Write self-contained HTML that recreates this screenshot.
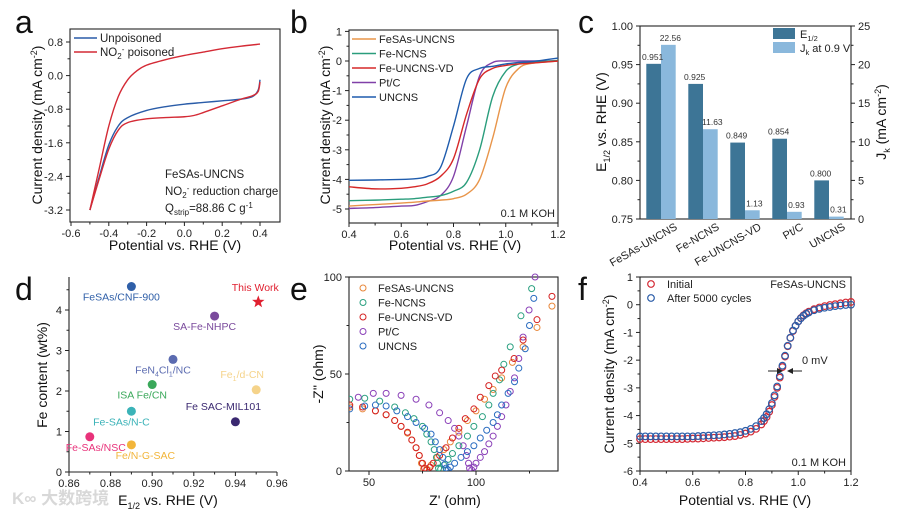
<!DOCTYPE html>
<html><head><meta charset="utf-8">
<style>
html,body{margin:0;padding:0;background:#fff;}
svg{display:block;font-family:"Liberation Sans","Noto Sans CJK SC",sans-serif;}
</style></head>
<body>
<svg id="fig" width="899" height="517" viewBox="0 0 899 517">
<g id="root"></g>
</svg>
<script>
// ---------- DATA ----------
// panel a (CV)
const aRedUpX=[-0.5,-0.45,-0.4,-0.35,-0.3,-0.25,-0.2,-0.1,0,0.1,0.2,0.3,0.4];
const aRedUpY=[-3.2,-2.2,-1.2,-0.5,-0.1,0.12,0.25,0.38,0.48,0.56,0.64,0.7,0.75];
const aRedLoX=[0.4,0.39,0.36,0.3,0.2,0.1,0.05,0,-0.1,-0.2,-0.3,-0.35,-0.4,-0.45,-0.5];
const aRedLoY=[-0.15,-0.38,-0.48,-0.56,-0.72,-0.88,-0.95,-0.98,-1.0,-1.03,-1.12,-1.3,-1.75,-2.45,-3.2];
const aBlueX=[0.4,0.39,0.36,0.3,0.2,0.1,0,-0.1,-0.2,-0.3,-0.35,-0.4,-0.45,-0.5];
const aBlueY=[-0.1,-0.35,-0.5,-0.56,-0.6,-0.64,-0.68,-0.74,-0.83,-1.0,-1.2,-1.65,-2.4,-3.2];
// panel b (LSV)
const bX=[0.4,0.5,0.6,0.65,0.7,0.75,0.8,0.85,0.9,0.95,1.0,1.05,1.1,1.2];
const bFeSAs=[-4.9,-4.85,-4.8,-4.77,-4.73,-4.7,-4.65,-4.5,-4.0,-2.6,-0.9,-0.25,-0.08,0];
const bFeNCNS=[-4.72,-4.7,-4.67,-4.65,-4.6,-4.55,-4.4,-4.1,-3.0,-1.2,-0.35,-0.1,-0.05,0.02];
const bVD=[-4.25,-4.32,-4.3,-4.25,-4.15,-3.9,-3.3,-1.8,-0.6,-0.25,-0.15,-0.1,-0.07,0];
const bPt=[-4.98,-4.95,-4.9,-4.88,-4.75,-4.55,-3.9,-2.2,-0.5,-0.05,0,0,0,0];
const bUNCNS=[-4.03,-4.02,-4.0,-3.98,-3.9,-3.6,-2.2,-0.6,-0.25,-0.18,-0.1,-0.05,-0.02,0.1];
const bNames=["FeSAs-UNCNS","Fe-NCNS","Fe-UNCNS-VD","Pt/C","UNCNS"];
// panel c (bars)
const cCats=["FeSAs-UNCNS","Fe-NCNS","Fe-UNCNS-VD","Pt/C","UNCNS"];
const cE12=[0.951,0.925,0.849,0.854,0.800];
const cJk=[22.56,11.63,1.13,0.93,0.31];
const cLeftTicks=[0.75,0.80,0.85,0.90,0.95,1.00];
const cRightTicks=[0,5,10,15,20,25];
// panel d (scatter)
const dNames=["FeSAs/CNF-900","SA-Fe-NHPC","FeN4Cl1/NC","Fe1/d-CN","ISA Fe/CN","Fe-SAs/N-C","Fe SAC-MIL101","Fe-SAs/NSC","Fe/N-G-SAC"];
const dE=[0.89,0.93,0.91,0.95,0.90,0.89,0.94,0.87,0.89];
const dFe=[4.58,3.85,2.78,2.03,2.16,1.5,1.24,0.87,0.67];
const dThisE=[0.951];
const dThisFe=[4.2];
// panel e (EIS)
const eOrX=[41,47,53,58,62,65,68,70,72,73.5,74.5,75.5,77,79,82,85,88,92,96,100,104,108,112,117,122,128.5,135.5];
const eOrY=[33,32,31,29,26,23,19.5,16,12,8,4,1,1,3,7,11,15,20,26,31,37,42,48,56,64,74,85];
const eGrX=[41,48,55,62,67,71,75,77,79,80.5,81.5,82,82.5,83.5,85,87,89,92,96,99,103,106,108,111,113,116,121,126];
const eGrY=[37,37.5,36,33,30,27,23,19,15,11,7,4,1.5,1,3,6,9,13,18,23,28,34,40,47,55,64,80,94];
const eRdX=[41,47,53,58,62,65,68,70,72,73.5,75,76,77,78.5,80,83,86,89,92,95,99,102,106,109,112,117.8,122,128.5,135.5];
const eRdY=[34,33,31,29,26,23,20,16,12,8,4,1.5,0.5,2,4,8,12,17,22,27,32,38,44,49,52,58,67.5,78,90];
const ePuX=[45,52,58,65,72,78,83,87,90,92,94,95.5,96.5,97,98,99,100,102,104,106,108,110,112,114,116,118,120,122,124.8,127.6];
const ePuY=[38,40,40,39,37,34,30,26,22,18,13,8,4,1.5,0.5,2,4,7,10,14,18,23,28,34,41,48,58,69,83,100];
const eBlX=[41,48,53,58,63,68,72,76,79,81,83,84.5,85.5,86,87,88,90,93,96,99,102,105,108,110,112,115,118,120,123,125,127];
const eBlY=[32,33.5,34,33.5,31,28,25,22,19,15,11,7,3.5,1.5,0.5,2,4,7,10,13,17,21,25,29,34,40,46,53,63,75,89];
// panel f (stability)
const fX=[0.40,0.42,0.44,0.46,0.48,0.50,0.52,0.54,0.56,0.58,0.60,0.62,0.64,0.66,0.68,0.70,0.72,0.74,0.76,0.78,0.80,0.82,0.84,0.86,0.87,0.88,0.89,0.90,0.91,0.92,0.93,0.94,0.95,0.96,0.97,0.98,0.99,1.00,1.01,1.02,1.03,1.04,1.06,1.08,1.10,1.12,1.14,1.16,1.18,1.20];
const fInit=[-4.85,-4.85,-4.85,-4.85,-4.85,-4.85,-4.85,-4.85,-4.85,-4.84,-4.83,-4.83,-4.82,-4.81,-4.80,-4.79,-4.78,-4.76,-4.74,-4.70,-4.65,-4.58,-4.48,-4.32,-4.2,-4.05,-3.86,-3.62,-3.33,-3.0,-2.63,-2.25,-1.87,-1.5,-1.2,-0.95,-0.76,-0.6,-0.48,-0.38,-0.31,-0.25,-0.16,-0.1,-0.05,-0.01,0.02,0.05,0.08,0.1];
const fAfter=[-4.75,-4.75,-4.75,-4.75,-4.75,-4.75,-4.75,-4.75,-4.75,-4.75,-4.75,-4.74,-4.73,-4.72,-4.71,-4.70,-4.68,-4.66,-4.63,-4.6,-4.55,-4.48,-4.38,-4.2,-4.09,-3.95,-3.77,-3.55,-3.27,-2.95,-2.58,-2.2,-1.84,-1.48,-1.19,-0.93,-0.76,-0.6,-0.49,-0.4,-0.33,-0.28,-0.2,-0.15,-0.11,-0.08,-0.05,-0.03,-0.01,0.0];

// ---------- HELPERS ----------
const NS="http://www.w3.org/2000/svg";
const root=document.getElementById('root');
function el(tag,attrs,parent,text){const e=document.createElementNS(NS,tag);for(const k in attrs)e.setAttribute(k,attrs[k]);if(text!==undefined)e.textContent=text;(parent||root).appendChild(e);return e;}
function lin(d0,d1,p0,p1){return v=>p0+(v-d0)*(p1-p0)/(d1-d0);}
function smooth(pts){let d="M"+pts[0][0].toFixed(2)+","+pts[0][1].toFixed(2);for(let i=0;i<pts.length-1;i++){const p0=pts[Math.max(0,i-1)],p1=pts[i],p2=pts[i+1],p3=pts[Math.min(pts.length-1,i+2)];const c1x=p1[0]+(p2[0]-p0[0])/6,c1y=p1[1]+(p2[1]-p0[1])/6,c2x=p2[0]-(p3[0]-p1[0])/6,c2y=p2[1]-(p3[1]-p1[1])/6;d+=" C"+c1x.toFixed(2)+","+c1y.toFixed(2)+" "+c2x.toFixed(2)+","+c2y.toFixed(2)+" "+p2[0].toFixed(2)+","+p2[1].toFixed(2);}return d;}
function frame(g,x0,y0,x1,y1,full){
  if(full){const r=el('rect',{x:x0,y:y0,width:x1-x0,height:y1-y0,fill:'none',stroke:'#222','stroke-width':1.1},g);}
  else{const p=el('path',{d:`M${x0},${y0}V${y1}H${x1}`,fill:'none',stroke:'#222','stroke-width':1.1},g);}
}
function xTicks(g,sx,ticks,y,labels,minor){ticks.forEach((t,i)=>{const x=sx(t);el('line',{x1:x,x2:x,y1:y,y2:y+4,stroke:'#222','stroke-width':1},g);const tx=el('text',{x:x,y:y+15,'font-size':11,'text-anchor':'middle',fill:'#222'},g,labels[i]);});
  (minor||[]).forEach(t=>{const x=sx(t);el('line',{x1:x,x2:x,y1:y,y2:y+2.5,stroke:'#222','stroke-width':1},g);});}
function yTicks(g,sy,ticks,x,labels,minor,right){const s=right?1:-1;ticks.forEach((t,i)=>{const y=sy(t);el('line',{x1:x,x2:x+4*s,y1:y,y2:y,stroke:'#222','stroke-width':1},g);const tx=el('text',{x:x+7*s,y:y+4,'font-size':11,'text-anchor':right?'start':'end',fill:'#222'},g,labels[i]);});
  (minor||[]).forEach(t=>{const y=sy(t);el('line',{x1:x,x2:x+2.5*s,y1:y,y2:y,stroke:'#222','stroke-width':1},g);});}
function title(g,x,y,html,rot,name){const t=el('text',{x:x,y:y,'font-size':14,'text-anchor':'middle',fill:'#111',transform:rot?`rotate(-90 ${x} ${y})`:''},g);t.innerHTML=html;return t;}
function letter(x,y,s){const t=el('text',{x:x,y:y,'font-size':32,fill:'#111'},root,s);}
function range(a,b,st){const r=[];for(let v=a;v<=b+1e-9;v+=st)r.push(+v.toFixed(4));return r;}

// ---------- PANEL A ----------
(function(){
const g=el('g',{});
const sx=lin(-0.6,0.4,71,260), sy=lin(0.8,-3.2,42,210);
frame(g,70,29,280,222,true);
xTicks(g,sx,[-0.6,-0.4,-0.2,0,0.2,0.4],222,["-0.6","-0.4","-0.2","0.0","0.2","0.4"],range(-0.5,0.3,0.2));
yTicks(g,sy,[0.8,0,-0.8,-1.6,-2.4,-3.2],70,["0.8","0.0","-0.8","-1.6","-2.4","-3.2"],range(-2.8,0.4,0.8));
const blue=el('path',{d:smooth(aBlueX.map((x,i)=>[sx(x),sy(aBlueY[i])])),fill:'none',stroke:'#2a5ca8','stroke-width':1.4},g);

const red=el('path',{d:smooth(aRedUpX.map((x,i)=>[sx(x),sy(aRedUpY[i])])),fill:'none',stroke:'#d42a35','stroke-width':1.4},g);

const red2=el('path',{d:smooth(aRedLoX.map((x,i)=>[sx(x),sy(aRedLoY[i])])),fill:'none',stroke:'#d42a35','stroke-width':1.4},g);

el('line',{x1:74,x2:97,y1:38,y2:38,stroke:'#2a5ca8','stroke-width':1.5},g);
let t=el('text',{x:100,y:42,'font-size':11.5,fill:'#222'},g,'Unpoisoned');
el('line',{x1:74,x2:97,y1:52,y2:52,stroke:'#d42a35','stroke-width':1.5},g);
t=el('text',{x:100,y:56,'font-size':11.5,fill:'#222'},g);t.innerHTML='NO<tspan font-size="8" dy="3">2</tspan><tspan font-size="8" dy="-7">-</tspan><tspan dy="4"> poisoned</tspan>';
t=el('text',{x:165,y:178,'font-size':11.5,fill:'#222'},g,'FeSAs-UNCNS');
t=el('text',{x:165,y:195,'font-size':11.5,fill:'#222'},g);t.innerHTML='NO<tspan font-size="8" dy="3">2</tspan><tspan font-size="8" dy="-7">-</tspan><tspan dy="4"> reduction charge</tspan>';
t=el('text',{x:165,y:212,'font-size':11.5,fill:'#222'},g);t.innerHTML='Q<tspan font-size="8" dy="3">strip</tspan><tspan dy="-3">=88.86 C g</tspan><tspan font-size="8" dy="-4">-1</tspan>';
title(g,175,250,'Potential vs. RHE (V)',false,'x-axis-title');
title(g,42,125,'Current density (mA cm<tspan font-size="9" dy="-5">-2</tspan><tspan dy="5">)</tspan>',true,'y-axis-title');
})();
letter(15,33,'a');

// ---------- PANEL B ----------
(function(){
const g=el('g',{});
const sx=lin(0.4,1.2,349,558), sy=lin(0,-5,61,209);
frame(g,349,30,558,223,true);
xTicks(g,sx,[0.4,0.6,0.8,1.0,1.2],223,["0.4","0.6","0.8","1.0","1.2"],[0.5,0.7,0.9,1.1]);
yTicks(g,sy,[1,0,-1,-2,-3,-4,-5],349,["1","0","-1","-2","-3","-4","-5"],[0.5,-0.5,-1.5,-2.5,-3.5,-4.5]);
const series=[bFeSAs,bFeNCNS,bVD,bPt,bUNCNS], cols=['#e8954a','#2a9d7c','#d62828','#8040a8','#1f5cad'];
const order=[3,0,1,2,4];
order.forEach(k=>{const p=el('path',{d:smooth(bX.map((x,i)=>[sx(x),sy(series[k][i])])),fill:'none',stroke:cols[k],'stroke-width':1.4},g);});
bNames.forEach((n,i)=>{const y=39+i*14.5;el('line',{x1:352,x2:376,y1:y,y2:y,stroke:cols[i],'stroke-width':1.6},g);const t=el('text',{x:379,y:y+4,'font-size':11,fill:'#222'},g,n);});
let t=el('text',{x:555,y:217,'font-size':11,'text-anchor':'end',fill:'#222'},g,'0.1 M KOH');
title(g,455,250,'Potential vs. RHE (V)',false,'x-axis-title');
title(g,330,125,'Current density (mA cm<tspan font-size="9" dy="-5">-2</tspan><tspan dy="5">)</tspan>',true,'y-axis-title');
})();
letter(290,33,'b');

// ---------- PANEL C ----------
(function(){
const g=el('g',{});
const sL=lin(0.75,1.0,219,26), sR=lin(0,25,219,26);
const sx=i=>661+i*42;
frame(g,640,26,851,219,true);
yTicks(g,sL,cLeftTicks,640,cLeftTicks.map(v=>v.toFixed(2)),[0.775,0.825,0.875,0.925,0.975]);
yTicks(g,sR,cRightTicks,851,cRightTicks.map(String),[2.5,7.5,12.5,17.5,22.5],true);
const bw=14.7;
cCats.forEach((c,i)=>{
  const y1=sL(cE12[i]);
  const r1=el('rect',{x:sx(i)-bw,y:y1,width:bw,height:219-y1,fill:'#3d7596'},g);
  
  const y2=sR(cJk[i]);
  const r2=el('rect',{x:sx(i),y:y2,width:bw,height:219-y2,fill:'#8ab8dc'},g);
  
  let t=el('text',{x:sx(i)-bw/2-1,y:y1-4,'font-size':8.5,'text-anchor':'middle',fill:'#333'},g,cE12[i].toFixed(3));
  t=el('text',{x:sx(i)+bw/2+2,y:y2-4,'font-size':8.5,'text-anchor':'middle',fill:'#333'},g,cJk[i].toFixed(2));
  t=el('text',{x:sx(i)+17,y:229,'font-size':11,'text-anchor':'end',fill:'#222',transform:`rotate(-30 ${sx(i)+17} 229)`},g,c);
});
el('rect',{x:773,y:28,width:22,height:11,fill:'#3d7596'},g);
let t=el('text',{x:800,y:38,'font-size':11,fill:'#222'},g);t.innerHTML='E<tspan font-size="7.5" dy="3">1/2</tspan>';
el('rect',{x:773,y:42,width:22,height:11,fill:'#8ab8dc'},g);
t=el('text',{x:800,y:52,'font-size':11,fill:'#222'},g);t.innerHTML='J<tspan font-size="7.5" dy="3">k</tspan><tspan dy="-3"> at 0.9 V</tspan>';
title(g,606,122,'E<tspan font-size="9" dy="4">1/2</tspan><tspan dy="-4"> vs. RHE (V)</tspan>',true,'y-axis-left-title');
title(g,886,122,'J<tspan font-size="9" dy="4">k</tspan><tspan dy="-4"> (mA cm</tspan><tspan font-size="9" dy="-5">-2</tspan><tspan dy="5">)</tspan>',true,'y-axis-right-title');
})();
letter(578,33,'c');

// ---------- PANEL D ----------
(function(){
const g=el('g',{});
const sx=lin(0.86,0.96,69,277), sy=lin(0,4,472,310);
frame(g,69,277,277,472,false);
xTicks(g,sx,[0.86,0.88,0.90,0.92,0.94,0.96],472,["0.86","0.88","0.90","0.92","0.94","0.96"],[0.87,0.89,0.91,0.93,0.95]);
yTicks(g,sy,[0,1,2,3,4],69,["0","1","2","3","4"],[0.5,1.5,2.5,3.5,4.5]);
const cols=['#2f5fa8','#7a4a9c','#5b6bb0','#f5d38a','#3aa85a','#3bb3b8','#3a2870','#e8327a','#f2b53a'];
const lab=[[0,-10,14],[0,-10,14],[-4,-10,14],[-10,-14,-12],[0,-10,14],[0,-10,14],[0,-12,-12],[0,6,14],[0,14,14]];
dNames.forEach((n,i)=>{
  const x=sx(dE[i]),y=sy(dFe[i]);
  const c=el('circle',{cx:x,cy:y,r:4.5,fill:cols[i]},g);
  const t=el('text',{x:x+lab[i][1],y:y+lab[i][2],'font-size':10.5,'text-anchor':'middle',fill:cols[i]},g);
  if(n==='FeN4Cl1/NC')t.innerHTML='FeN<tspan font-size="7" dy="3">4</tspan><tspan dy="-3">Cl</tspan><tspan font-size="7" dy="3">1</tspan><tspan dy="-3">/NC</tspan>';
  else if(n==='Fe1/d-CN')t.innerHTML='Fe<tspan font-size="7" dy="3">1</tspan><tspan dy="-3">/d-CN</tspan>';
  else t.textContent=n;
  
});
const x=sx(dThisE[0]),y=sy(dThisFe[0]);
let pts=[];for(let k=0;k<10;k++){const r=k%2?2.7:6.5,a=-Math.PI/2+k*Math.PI/5;pts.push((x+r*Math.cos(a)).toFixed(1)+','+(y+r*Math.sin(a)).toFixed(1));}
const s=el('polygon',{points:pts.join(' '),fill:'#e02030'},g);
let t=el('text',{x:x-3,y:y-11,'font-size':10.5,'text-anchor':'middle',fill:'#e02030'},g,'This Work');
title(g,168,505,'E<tspan font-size="9" dy="4">1/2</tspan><tspan dy="-4"> vs. RHE (V)</tspan>',false,'x-axis-title');
title(g,47,375,'Fe content (wt%)',true,'y-axis-title');
t=el('text',{x:12,y:504,'font-size':17,fill:'#d8d8d8','font-weight':'bold'},root,'K∞ 大数跨境');
})();
letter(15,300,'d');

// ---------- PANEL E ----------
(function(){
const g=el('g',{});
const sx=lin(50,100,369,476), sy=lin(0,100,471,277);
frame(g,349,277,558,471,true);
xTicks(g,sx,[50,100],471,["50","100"],[75,125]);
yTicks(g,sy,[0,50,100],349,["0","50","100"],[25,75]);
const cols=['#e8873a','#2aa080','#d42020','#8a40b8','#2a6cc0'];
const xs=[eOrX,eGrX,eRdX,ePuX,eBlX], ys=[eOrY,eGrY,eRdY,ePuY,eBlY];
const cp=el('clipPath',{id:'eclip'},g);el('rect',{x:349,y:270,width:209,height:201},cp);
const cg=el('g',{'clip-path':'url(#eclip)'},g);
[3,0,1,2,4].forEach(k=>{xs[k].forEach((v,i)=>{const c=el('circle',{cx:sx(v),cy:sy(ys[k][i]),r:3,fill:'none',stroke:cols[k],'stroke-width':1},cg);});});
bNames.forEach((n,i)=>{const y=288+i*14.5;el('circle',{cx:363,cy:y,r:3,fill:'none',stroke:cols[i],'stroke-width':1},g);const t=el('text',{x:378,y:y+4,'font-size':11,fill:'#222'},g,n);});
title(g,455,505,"Z' (ohm)",false,'x-axis-title');
title(g,323,374,"-Z'' (ohm)",true,'y-axis-title');
})();
letter(290,300,'e');

// ---------- PANEL F ----------
(function(){
const g=el('g',{});
const sx=lin(0.4,1.2,640,851), sy=lin(1,-6,277,471);
frame(g,640,277,851,471,true);
xTicks(g,sx,[0.4,0.6,0.8,1.0,1.2],471,["0.4","0.6","0.8","1.0","1.2"],[0.5,0.7,0.9,1.1]);
yTicks(g,sy,[1,0,-1,-2,-3,-4,-5,-6],640,["1","0","-1","-2","-3","-4","-5","-6"],[0.5,-0.5,-1.5,-2.5,-3.5,-4.5,-5.5]);
fX.forEach((x,i)=>{const c=el('circle',{cx:sx(x),cy:sy(fInit[i]),r:3.3,fill:'none',stroke:'#d42a35','stroke-width':1.2},g);});
fX.forEach((x,i)=>{const c=el('circle',{cx:sx(x),cy:sy(fAfter[i]),r:3.3,fill:'none',stroke:'#2a5ca8','stroke-width':1.2},g);});
el('circle',{cx:651,cy:284,r:3.3,fill:'none',stroke:'#d42a35','stroke-width':1.2},g);
let t=el('text',{x:667,y:288,'font-size':11,fill:'#222'},g,'Initial');
el('circle',{cx:651,cy:298,r:3.3,fill:'none',stroke:'#2a5ca8','stroke-width':1.2},g);
t=el('text',{x:667,y:302,'font-size':11,fill:'#222'},g,'After 5000 cycles');
t=el('text',{x:846,y:288,'font-size':11,'text-anchor':'end',fill:'#222'},g,'FeSAs-UNCNS');
t=el('text',{x:846,y:466,'font-size':11,'text-anchor':'end',fill:'#222'},g,'0.1 M KOH');
const ay=371;
el('line',{x1:768,x2:781,y1:ay,y2:ay,stroke:'#222','stroke-width':1},g);el('polygon',{points:`783,${ay} 777,${ay-3} 777,${ay+3}`,fill:'#222'},g);
el('line',{x1:802,x2:789,y1:ay,y2:ay,stroke:'#222','stroke-width':1},g);el('polygon',{points:`787,${ay} 793,${ay-3} 793,${ay+3}`,fill:'#222'},g);
t=el('text',{x:802,y:364,'font-size':11,fill:'#222'},g,'0 mV');
title(g,745,505,'Potential vs. RHE (V)',false,'x-axis-title');
title(g,614,374,'Current density (mA cm<tspan font-size="9" dy="-5">-2</tspan><tspan dy="5">)</tspan>',true,'y-axis-title');
})();
letter(578,300,'f');
</script>
</body></html>
